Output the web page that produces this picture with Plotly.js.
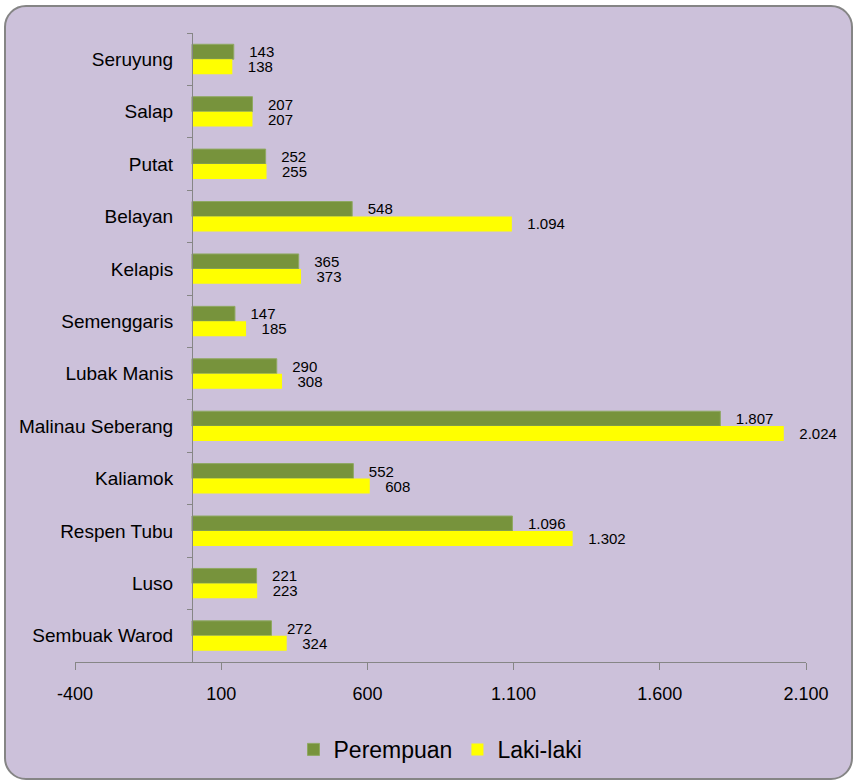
<!DOCTYPE html>
<html>
<head>
<meta charset="utf-8">
<script src="https://cdn.plot.ly/plotly-3.0.1.min.js"></script>
<style>
  html, body { margin: 0; padding: 0; background: #ffffff; }
  #frame {
    position: absolute; left: 4px; top: 5px; width: 845px; height: 771px;
    border: 2px solid #858585; border-radius: 22px; background: #CCC1DA;
  }
  #chart { position: absolute; left: 0; top: 0; width: 854px; height: 783px; }
</style>
</head>
<body>
<div id="frame"></div>
<div id="chart"></div>
<script>
// Categories listed top to bottom
const categories = ["Seruyung", "Salap", "Putat", "Belayan", "Kelapis", "Semenggaris",
  "Lubak Manis", "Malinau Seberang", "Kaliamok", "Respen Tubu", "Luso", "Sembuak Warod"];
const perempuan = [143, 207, 252, 548, 365, 147, 290, 1807, 552, 1096, 221, 272];
const lakiLaki  = [138, 207, 255, 1094, 373, 185, 308, 2024, 608, 1302, 223, 324];
const xTickVals = [-400, 100, 600, 1100, 1600, 2100];
const seriesNames = ["Perempuan", "Laki-laki"];

function fmt(v) {
  return String(v).replace(/\B(?=(\d{3})+(?!\d))/g, ".");
}
const pad = "\u00a0\u00a0\u00a0";
const FONT = "Liberation Sans, Arial, sans-serif";

const traces = [
  {
    type: "bar", orientation: "h", name: seriesNames[0],
    y: categories, x: perempuan,
    text: perempuan.map(v => pad + fmt(v)),
    textposition: "outside", constraintext: "none", cliponaxis: false,
    textfont: { family: FONT, size: 15, color: "#000000" },
    marker: { color: "#77933C", line: { color: "#8FA862", width: 1 } },
    hoverinfo: "skip"
  },
  {
    type: "bar", orientation: "h", name: seriesNames[1],
    y: categories, x: lakiLaki,
    text: lakiLaki.map(v => pad + fmt(v)),
    textposition: "outside", constraintext: "none", cliponaxis: false,
    textfont: { family: FONT, size: 15, color: "#000000" },
    marker: { color: "#FFFF00", line: { width: 0 } },
    hoverinfo: "skip"
  }
];

const layout = {
  width: 854, height: 783,
  margin: { l: 75, r: 48, t: 33, b: 119 },
  paper_bgcolor: "rgba(0,0,0,0)",
  plot_bgcolor: "rgba(0,0,0,0)",
  separators: ",.",
  font: { family: FONT, color: "#000000" },
  barmode: "group", bargap: 0.43, bargroupgap: 0,
  showlegend: true,
  legend: {
    orientation: "h", x: 0.5, xanchor: "center", y: -0.139, yanchor: "middle",
    font: { family: FONT, size: 23, color: "#000000" },
    bgcolor: "rgba(0,0,0,0)", itemwidth: 30, traceorder: "normal"
  },
  xaxis: {
    domain: [0, 1],
    range: [-400, 2100], tickmode: "array", tickvals: xTickVals,
    ticktext: xTickVals.map(fmt),
    showgrid: false, zeroline: false,
    showline: true, linecolor: "#868686", linewidth: 1,
    ticks: "outside", ticklen: 7, tickcolor: "#868686",
    tickfont: { family: FONT, size: 18, color: "#000000" },
    ticklabelstandoff: 8, fixedrange: true
  },
  yaxis: {
    type: "category", categoryorder: "array", categoryarray: categories,
    autorange: "reversed",
    anchor: "free", position: 0.16,
    showgrid: false, zeroline: false,
    showline: true, linecolor: "#868686", linewidth: 1,
    ticks: "outside", ticklen: 5, tickcolor: "#868686", tickson: "boundaries",
    tickfont: { family: FONT, size: 19, color: "#000000" },
    ticklabelstandoff: 15, fixedrange: true
  }
};

Plotly.newPlot("chart", traces, layout, { displayModeBar: false, staticPlot: true });
</script>
</body>
</html>
